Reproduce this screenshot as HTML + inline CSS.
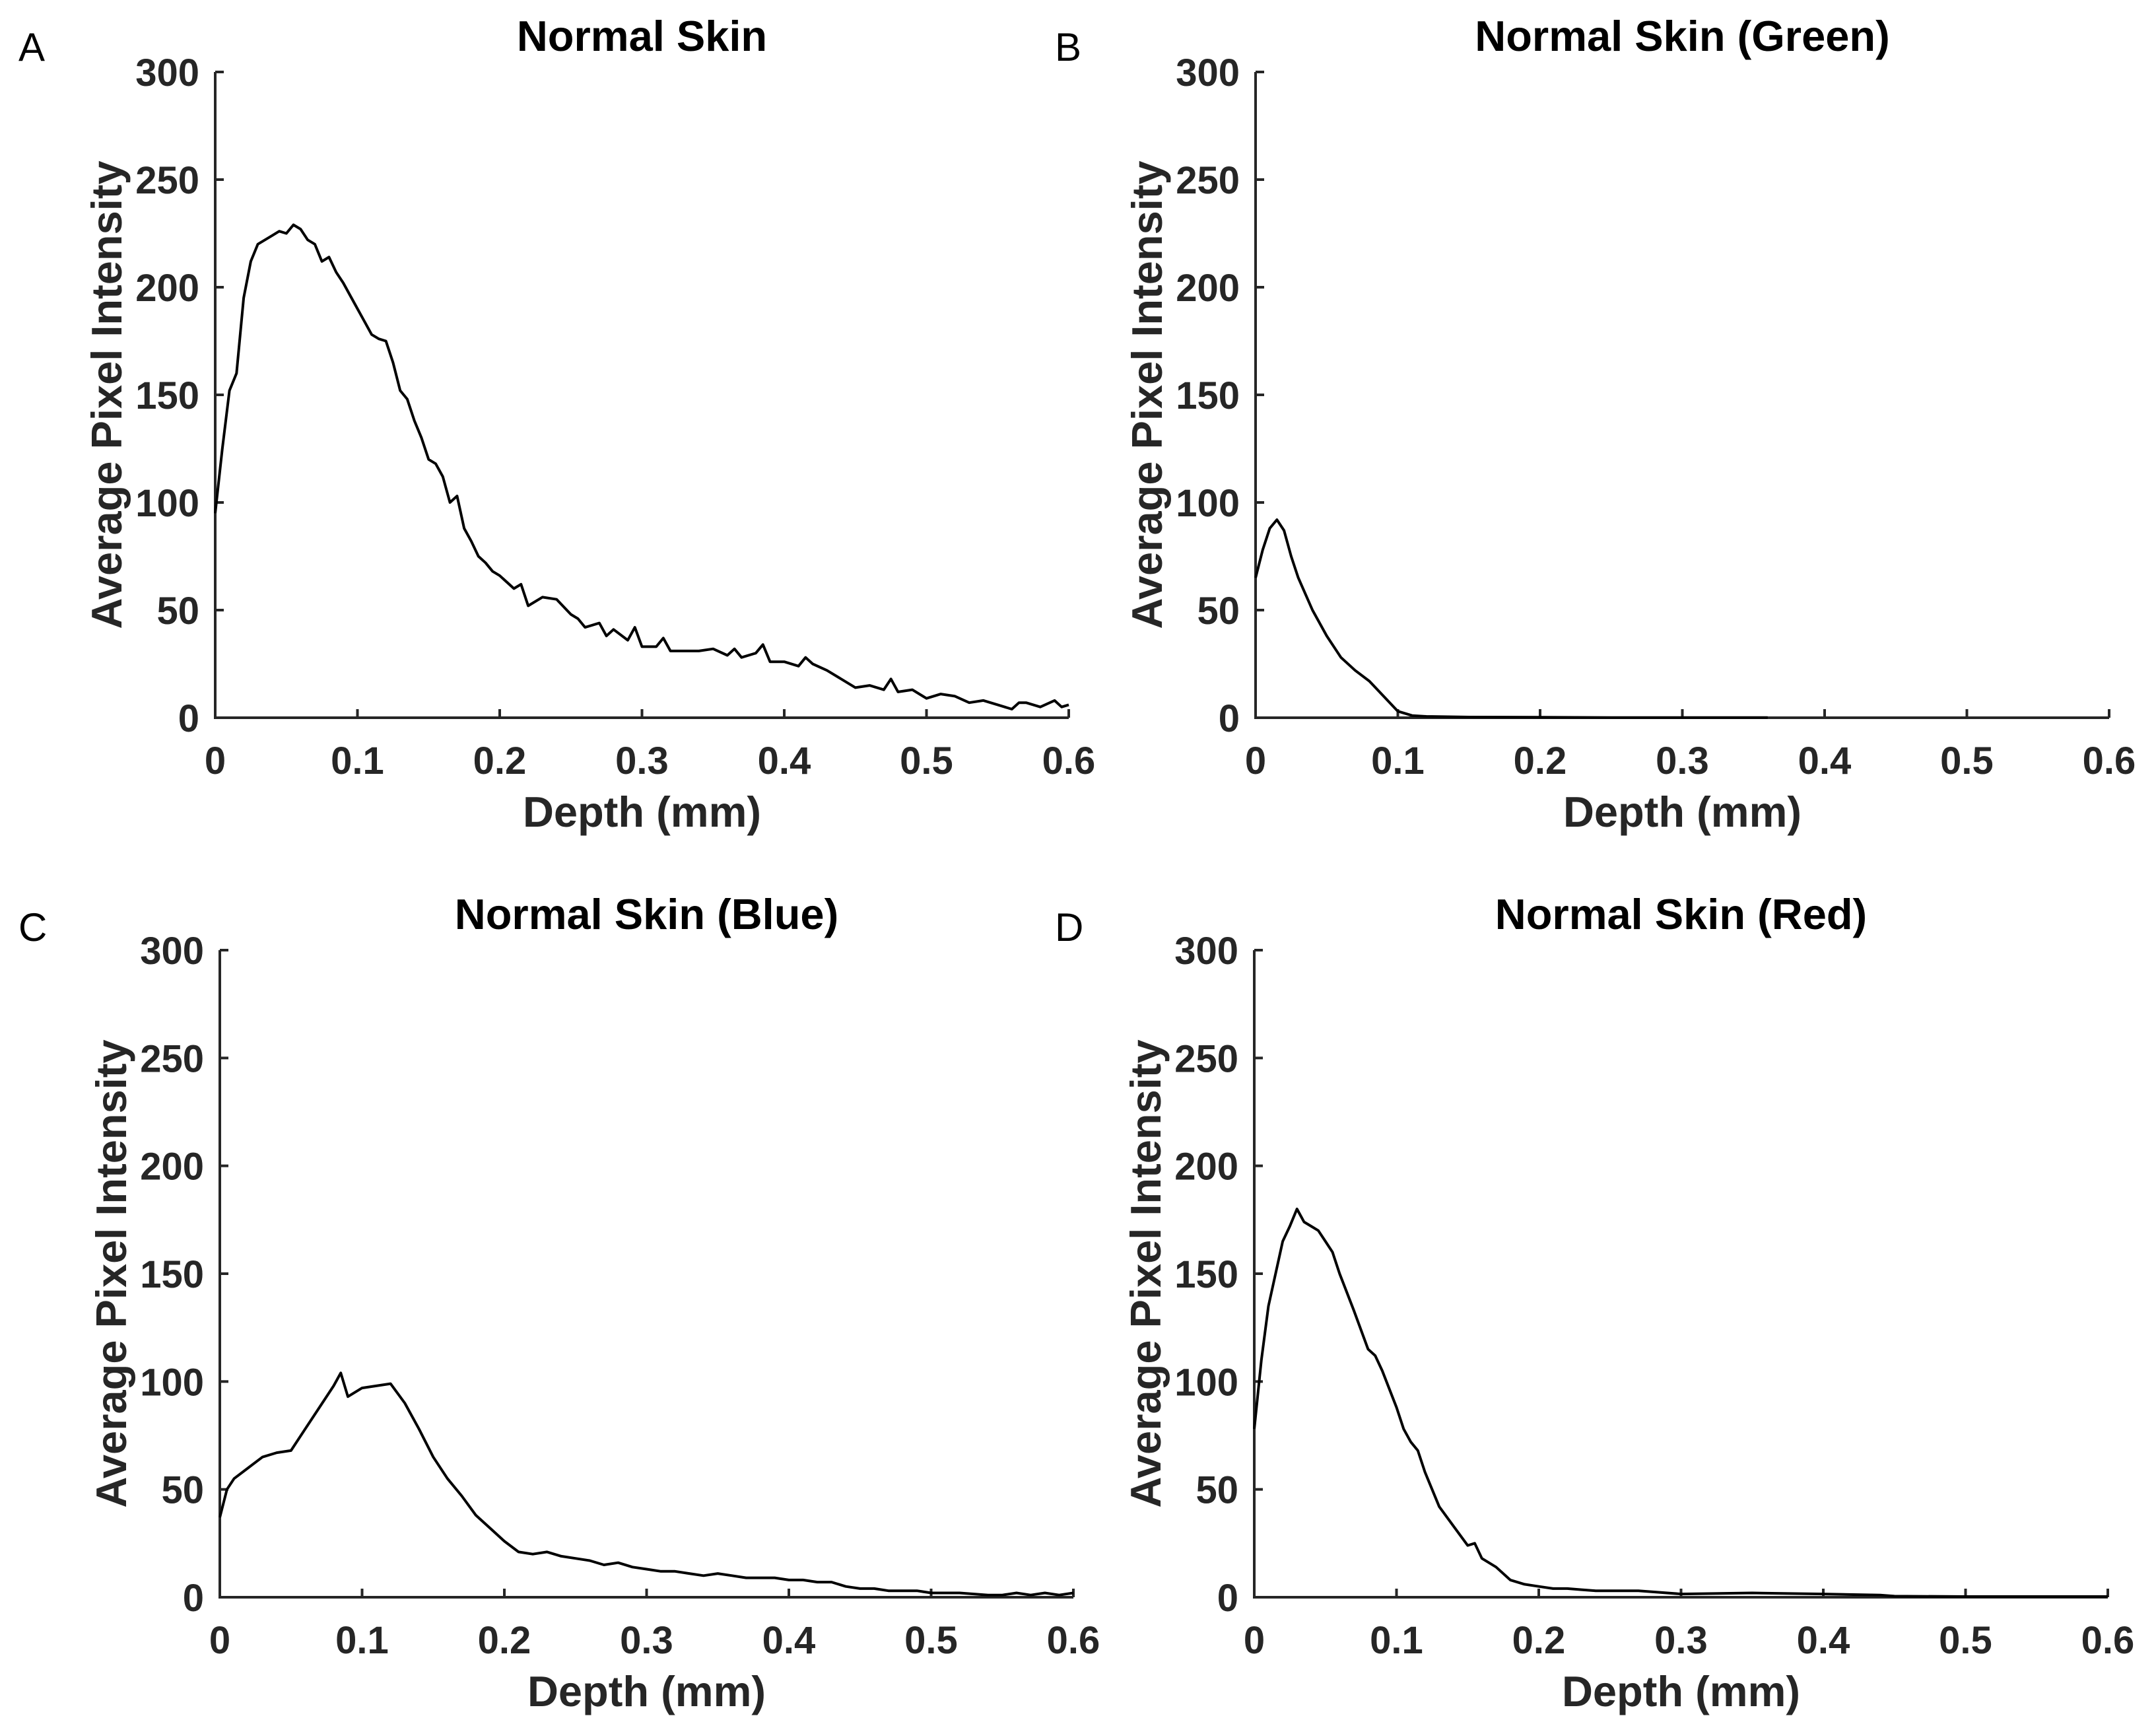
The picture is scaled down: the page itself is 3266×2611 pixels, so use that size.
<!DOCTYPE html>
<html><head><meta charset="utf-8"><style>
html,body{margin:0;padding:0;background:#fff;}
svg{display:block;font-family:"Liberation Sans",Arial,sans-serif;}
.tick{font-size:58px;font-weight:bold;fill:#262626;}
.title{font-size:65px;font-weight:bold;fill:#000;}
.alabel{font-size:65px;font-weight:bold;fill:#262626;}
.letter{font-size:60px;fill:#000;}
</style></head><body>
<svg id="fig" width="3266" height="2611" viewBox="0 0 3266 2611"></svg>
<script>
const xTicks=[0,0.1,0.2,0.3,0.4,0.5,0.6];
const xTickLabels=["0","0.1","0.2","0.3","0.4","0.5","0.6"];
const yTicks=[0,50,100,150,200,250,300];
const yTickLabels=["0","50","100","150","200","250","300"];
const depthA=[0,0.005,0.01,0.015,0.02,0.025,0.03,0.04,0.045,0.05,0.055,0.06,0.065,0.07,0.075,0.08,0.085,0.09,0.095,0.1,0.105,0.11,0.115,0.12,0.125,0.13,0.135,0.14,0.145,0.15,0.155,0.16,0.165,0.17,0.175,0.18,0.185,0.19,0.195,0.2,0.21,0.215,0.22,0.23,0.24,0.25,0.255,0.26,0.27,0.275,0.28,0.29,0.295,0.3,0.31,0.315,0.32,0.33,0.34,0.35,0.36,0.365,0.37,0.38,0.385,0.39,0.4,0.41,0.415,0.42,0.43,0.44,0.45,0.46,0.47,0.475,0.48,0.49,0.5,0.51,0.52,0.53,0.54,0.55,0.56,0.565,0.57,0.58,0.59,0.595,0.6];
const intensityA=[95,125,152,160,195,212,220,224,226,225,229,227,222,220,212,214,207,202,196,190,184,178,176,175,165,152,148,138,130,120,118,112,100,103,88,82,75,72,68,66,60,62,52,56,55,48,46,42,44,38,41,36,42,33,33,37,31,31,31,32,29,32,28,30,34,26,26,24,28,25,22,18,14,15,13,18,12,13,9,11,10,7,8,6,4,7,7,5,8,5,6];
const depthB=[0,0.005,0.01,0.015,0.02,0.025,0.03,0.04,0.05,0.06,0.07,0.08,0.09,0.1,0.11,0.12,0.15,0.2,0.25,0.3,0.36];
const intensityB=[65,78,88,92,87,75,65,50,38,28,22,17,10,3,1,0.6,0.3,0.2,0.1,0.1,0.1];
const depthC=[0,0.005,0.01,0.02,0.03,0.04,0.05,0.06,0.07,0.08,0.085,0.09,0.1,0.11,0.12,0.13,0.14,0.15,0.16,0.17,0.18,0.19,0.2,0.21,0.22,0.23,0.24,0.25,0.26,0.27,0.28,0.29,0.3,0.31,0.32,0.33,0.34,0.35,0.36,0.37,0.38,0.39,0.4,0.41,0.42,0.43,0.44,0.45,0.46,0.47,0.48,0.49,0.5,0.51,0.52,0.53,0.54,0.55,0.56,0.57,0.58,0.59,0.6];
const intensityC=[37,50,55,60,65,67,68,78,88,98,104,93,97,98,99,90,78,65,55,47,38,32,26,21,20,21,19,18,17,15,16,14,13,12,12,11,10,11,10,9,9,9,8,8,7,7,5,4,4,3,3,3,2,2,2,1.5,1,1,2,1,2,1,2];
const depthD=[0,0.005,0.01,0.02,0.025,0.03,0.035,0.04,0.045,0.05,0.055,0.06,0.07,0.08,0.085,0.09,0.1,0.105,0.11,0.115,0.12,0.13,0.14,0.15,0.155,0.16,0.17,0.18,0.19,0.2,0.21,0.22,0.23,0.24,0.25,0.27,0.3,0.35,0.4,0.44,0.45,0.5,0.55,0.6];
const intensityD=[78,110,135,165,172,180,174,172,170,165,160,150,133,115,112,105,88,78,72,68,58,42,33,24,25,18,14,8,6,5,4,4,3.5,3,3,3,1.5,2,1.5,1,0.5,0.3,0.3,0.3];

const NS="http://www.w3.org/2000/svg";
const svg=document.getElementById('fig');
function mk(tag,attrs,parent){const e=document.createElementNS(NS,tag);for(const k in attrs)e.setAttribute(k,attrs[k]);(parent||svg).appendChild(e);return e;}

const panels=[
 {key:"a",letter:"A",lx:28,ly:92,x0:326,x1:1619,y0:1087,y1:109,title:"Normal Skin",xs:depthA,ys:intensityA},
 {key:"b",letter:"B",lx:1598,ly:92,x0:1902,x1:3195,y0:1087,y1:109,title:"Normal Skin (Green)",xs:depthB,ys:intensityB},
 {key:"c",letter:"C",lx:28,ly:1425,x0:333,x1:1626,y0:2419,y1:1439,title:"Normal Skin (Blue)",xs:depthC,ys:intensityC},
 {key:"d",letter:"D",lx:1598,ly:1425,x0:1900,x1:3193,y0:2419,y1:1439,title:"Normal Skin (Red)",xs:depthD,ys:intensityD}
];

panels.forEach(p=>{
 const g=mk('g',{});
 
 
 const sx=v=>p.x0+(v-0)/(0.6-0)*(p.x1-p.x0);
 const sy=v=>p.y0+(v-0)/(300-0)*(p.y1-p.y0);
 const L=mk('text',{x:p.lx,y:p.ly,class:'letter'},g);L.textContent=p.letter;
 
 
 const cx=(p.x0+p.x1)/2;
 const T=mk('text',{x:cx,y:p.y1-32,class:'title','text-anchor':'middle'},g);T.textContent=p.title;
 
 
 const ax=mk('path',{d:`M${p.x0},${p.y1} V${p.y0} H${p.x1}`,stroke:'#262626','stroke-width':4,fill:'none'},g);
 
 
 yTicks.forEach((v,i)=>{
  const y=sy(v);
  const t=mk('line',{x1:p.x0,x2:p.x0+13,y1:y,y2:y,stroke:'#262626','stroke-width':4},g);
  
  
  const l=mk('text',{x:p.x0-24,y:y+21,class:'tick','text-anchor':'end'},g);l.textContent=yTickLabels[i];
  
  
 });
 xTicks.forEach((v,i)=>{
  const x=sx(v);
  const t=mk('line',{x1:x,x2:x,y1:p.y0,y2:p.y0-13,stroke:'#262626','stroke-width':4},g);
  
  
  const l=mk('text',{x:x,y:p.y0+85,class:'tick','text-anchor':'middle'},g);l.textContent=xTickLabels[i];
  
  
 });
 const xl=mk('text',{x:cx,y:p.y0+165,class:'alabel','text-anchor':'middle'},g);xl.textContent="Depth (mm)";
 
 
 const ym=(p.y0+p.y1)/2;
 const yl=mk('text',{x:0,y:0,class:'alabel','text-anchor':'middle',transform:`translate(${p.x0-142},${ym}) rotate(-90)`},g);yl.textContent="Average Pixel Intensity";
 
 
 const d=p.xs.map((v,i)=>(i?'L':'M')+sx(v).toFixed(1)+','+sy(p.ys[i]).toFixed(1)).join(' ');
 const ln=mk('path',{d:d,stroke:'#000','stroke-width':4,fill:'none','stroke-linejoin':'round'},g);
 
 
});
</script>
</body></html>
